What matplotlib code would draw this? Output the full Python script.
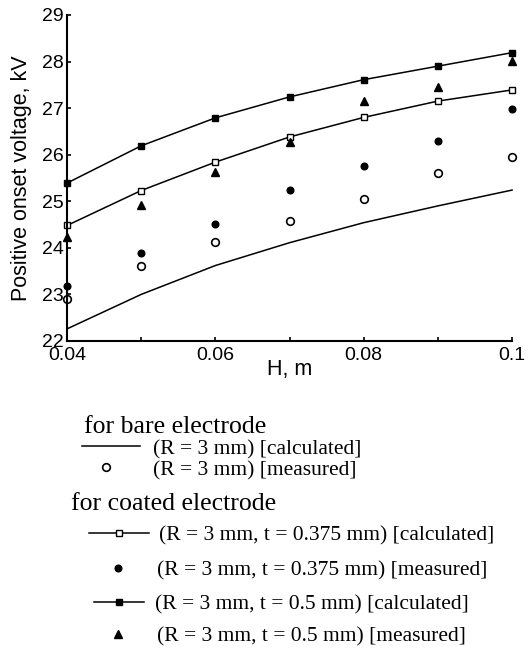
import numpy as np
import matplotlib.pyplot as plt
from matplotlib.ticker import FixedLocator

# data
H = [0.04, 0.05, 0.06, 0.07, 0.08, 0.09, 0.1]
bare_calc = [22.26, 23.00, 23.62, 24.11, 24.54, 24.90, 25.24]
bare_meas = [22.90, 23.60, 24.12, 24.58, 25.04, 25.61, 25.96]
t375_calc = [24.48, 25.23, 25.84, 26.38, 26.80, 27.15, 27.39]
t375_meas = [23.18, 23.88, 24.51, 25.25, 25.75, 26.30, 26.99]
t05_calc = [25.39, 26.19, 26.79, 27.24, 27.61, 27.90, 28.19]
t05_meas = [24.23, 24.93, 25.62, 26.28, 27.15, 27.45, 28.01]

x_major = [0.04, 0.06, 0.08, 0.1]
x_major_labels = ['0.04', '0.06', '0.08', '0.1']
x_minor = [0.05, 0.07, 0.09]
y_ticks = [22, 23, 24, 25, 26, 27, 28, 29]

lbl_bare_calc = '(R = 3 mm) [calculated]'
lbl_bare_meas = '(R = 3 mm) [measured]'
lbl_375_calc = '(R = 3 mm, t = 0.375 mm) [calculated]'
lbl_375_meas = '(R = 3 mm, t = 0.375 mm) [measured]'
lbl_05_calc = '(R = 3 mm, t = 0.5 mm) [calculated]'
lbl_05_meas = '(R = 3 mm, t = 0.5 mm) [measured]'

plt.rcParams['font.family'] = ['Liberation Sans', 'DejaVu Sans']

fig = plt.figure(figsize=(5.29, 6.49), dpi=100)
ax = fig.add_axes([0.1267, 0.4746, 0.8413, 0.5024])

lw = 1.1
l_bc, = ax.plot(H, bare_calc, '-', color='black', lw=lw, clip_on=False)
l_bm, = ax.plot(H, bare_meas, 'o', mfc='white', mec='black', mew=1.2, ms=5.5, ls='none', clip_on=False)
l_3c, = ax.plot(H, t375_calc, '-s', color='black', mfc='white', mec='black', mew=1.0, ms=3.8, lw=lw, clip_on=False)
l_3m, = ax.plot(H, t375_meas, 'o', color='black', ms=4.8, ls='none', clip_on=False)
l_5c, = ax.plot(H, t05_calc, '-s', color='black', ms=3.8, lw=lw, clip_on=False)
l_5m, = ax.plot(H, t05_meas, '^', color='black', ms=5.5, ls='none', clip_on=False)

ax.set_xlim(0.04, 0.1)
ax.set_ylim(22, 29)
ax.set_xticks(x_major)
ax.set_xticklabels(x_major_labels)
ax.xaxis.set_minor_locator(FixedLocator(x_minor))
ax.set_yticks(y_ticks)
ax.spines['top'].set_visible(False)
ax.spines['right'].set_visible(False)
ax.spines['left'].set_linewidth(1.5)
ax.spines['bottom'].set_linewidth(1.5)
ax.tick_params(which='both', direction='in', length=3, width=1.2, labelsize=14)
ax.tick_params(axis='x', pad=4)
ax.tick_params(axis='y', pad=2.5)
ax.set_xlabel('H, m', fontsize=15.5, labelpad=-3)
ax.set_ylabel('Positive onset voltage, kV', fontsize=15.5, labelpad=7)

# legend block below the axes
serif = ['Liberation Serif', 'DejaVu Serif']
fig.text(84 / 529, 1 - 427 / 649, 'for bare electrode', family=serif, fontsize=18.5, va='center', ha='left')
fig.text(71 / 529, 1 - 504 / 649, 'for coated electrode', family=serif, fontsize=18.5, va='center', ha='left')

fs = 15.5
fpx = fs * 100 / 72
entries = [
    (l_bc, lbl_bare_calc, 82, 58, 153, 449),
    (l_bm, lbl_bare_meas, 82, 48, 153, 470),
    (l_3c, lbl_375_calc, 89, 60, 159, 535),
    (l_3m, lbl_375_meas, 89, 58, 157, 570),
    (l_5c, lbl_05_calc, 94, 50, 155, 604),
    (l_5m, lbl_05_meas, 89, 58, 157, 636),
]
for h, lbl, x0, hl, xt, yc in entries:
    leg = fig.legend(handles=[h], labels=[lbl], loc='center left',
                     bbox_to_anchor=(x0 / 529, 1 - yc / 649), frameon=False,
                     borderpad=0, borderaxespad=0, numpoints=1,
                     handlelength=hl / fpx, handletextpad=(xt - x0 - hl) / fpx,
                     prop={'family': serif, 'size': fs})

fig.savefig('out.png', dpi=100)
